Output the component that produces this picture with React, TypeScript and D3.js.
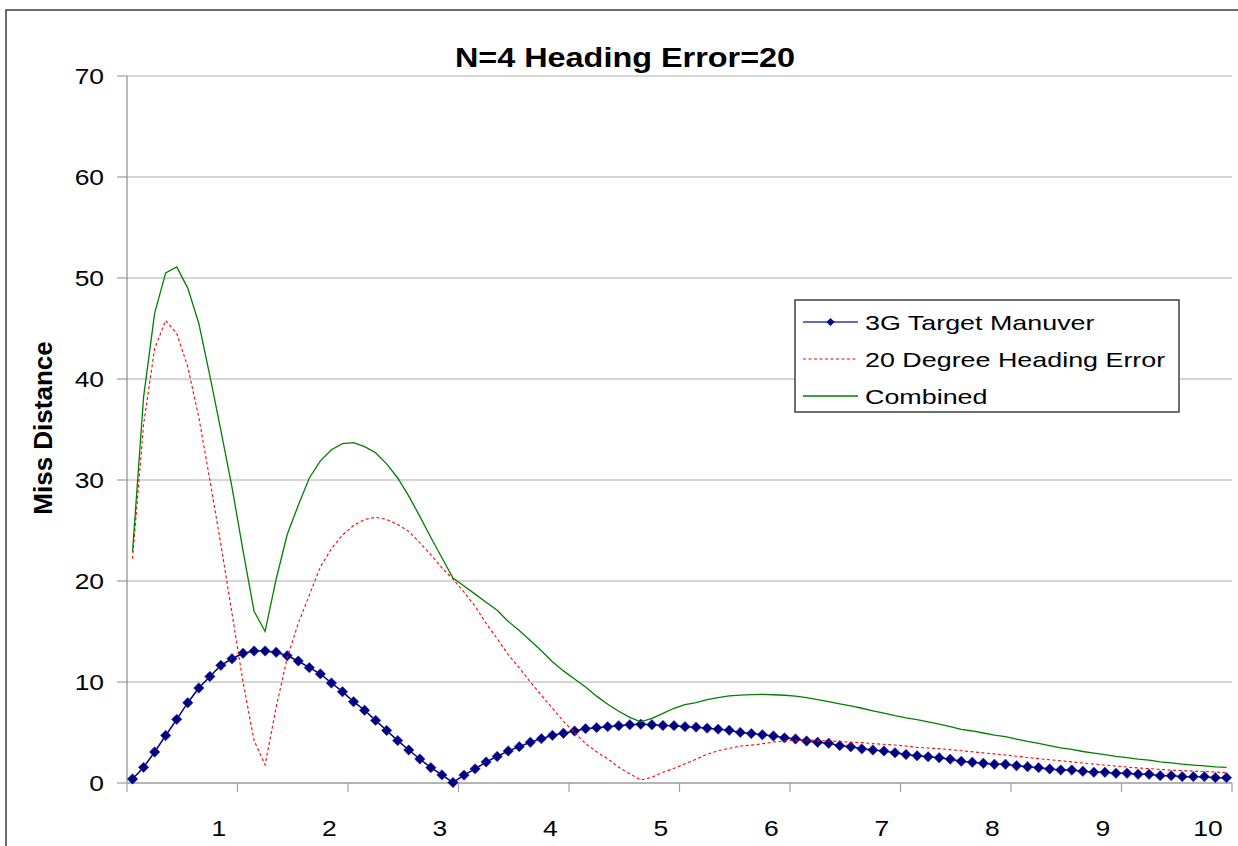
import React from 'react';
import * as d3 from 'd3';

const categories = [
  0.1, 0.2, 0.3, 0.4, 0.5, 0.6, 0.7, 0.8, 0.9, 1.0,
  1.1, 1.2, 1.3, 1.4, 1.5, 1.6, 1.7, 1.8, 1.9, 2.0,
  2.1, 2.2, 2.3, 2.4, 2.5, 2.6, 2.7, 2.8, 2.9, 3.0,
  3.1, 3.2, 3.3, 3.4, 3.5, 3.6, 3.7, 3.8, 3.9, 4.0,
  4.1, 4.2, 4.3, 4.4, 4.5, 4.6, 4.7, 4.8, 4.9, 5.0,
  5.1, 5.2, 5.3, 5.4, 5.5, 5.6, 5.7, 5.8, 5.9, 6.0,
  6.1, 6.2, 6.3, 6.4, 6.5, 6.6, 6.7, 6.8, 6.9, 7.0,
  7.1, 7.2, 7.3, 7.4, 7.5, 7.6, 7.7, 7.8, 7.9, 8.0,
  8.1, 8.2, 8.3, 8.4, 8.5, 8.6, 8.7, 8.8, 8.9, 9.0,
  9.1, 9.2, 9.3, 9.4, 9.5, 9.6, 9.7, 9.8, 9.9, 10.0,
];

const maneuver = [
  0.4, 1.55, 3.07, 4.7, 6.3, 7.95, 9.4, 10.55, 11.65, 12.3,
  12.84, 13.07, 13.07, 12.94, 12.6, 12.08, 11.42, 10.8, 9.9, 9.04,
  8.05, 7.2, 6.2, 5.2, 4.2, 3.27, 2.38, 1.52, 0.8, 0.05,
  0.78, 1.4, 2.08, 2.63, 3.17, 3.6, 4.03, 4.39, 4.72, 4.92,
  5.15, 5.38, 5.48, 5.58, 5.67, 5.77, 5.82, 5.77, 5.7, 5.68,
  5.58, 5.53, 5.43, 5.33, 5.22, 5.01, 4.89, 4.78, 4.66, 4.47,
  4.36, 4.16, 4.03, 3.93, 3.7, 3.58, 3.38, 3.27, 3.17, 2.99,
  2.82, 2.7, 2.6, 2.5, 2.36, 2.15, 2.05, 1.95, 1.85, 1.85,
  1.71, 1.61, 1.52, 1.39, 1.29, 1.29, 1.16, 1.06, 1.06, 0.96,
  0.96, 0.86, 0.86, 0.73, 0.73, 0.63, 0.63, 0.63, 0.53, 0.53,
];

const heading = [
  22.2, 35.5, 43.0, 45.8, 44.5, 41.2, 36.2, 30.0, 23.6, 16.8,
  10.0, 4.2, 1.8, 7.5, 12.4, 15.8, 18.6, 21.4, 23.2, 24.55,
  25.5, 26.1, 26.3, 26.1, 25.6, 24.9, 23.8, 22.6, 21.3, 20.2,
  18.9, 17.5, 15.8, 14.3, 12.7, 11.4, 10.0, 8.7, 7.4, 6.1,
  5.0, 3.9, 3.1, 2.4, 1.55, 0.9, 0.3, 0.56, 1.06, 1.45,
  1.9, 2.35, 2.84, 3.2, 3.43, 3.66, 3.75, 3.88, 4.06, 4.16,
  4.22, 4.26, 4.22, 4.16, 4.13, 4.03, 4.0, 3.9, 3.83, 3.76,
  3.66, 3.53, 3.47, 3.4, 3.3, 3.2, 3.09, 2.98, 2.88, 2.77,
  2.65, 2.53, 2.41, 2.3, 2.2, 2.09, 1.98, 1.87, 1.78, 1.67,
  1.58, 1.49, 1.42, 1.34, 1.27, 1.22, 1.17, 1.13, 1.08, 1.04,
];

const combined = [
  22.9, 38.2, 46.5, 50.5, 51.1, 49.0, 45.5, 40.3, 34.9, 29.3,
  23.0, 17.0, 15.0, 20.2, 24.6, 27.5, 30.2, 31.9, 33.0, 33.6,
  33.7, 33.3, 32.7, 31.6, 30.2, 28.4, 26.4, 24.3, 22.3, 20.3,
  19.5, 18.7, 17.9, 17.1, 16.0, 15.1, 14.1, 13.1, 12.0, 11.1,
  10.3, 9.5, 8.6, 7.8, 7.1, 6.5, 6.05, 6.4, 6.9, 7.4,
  7.75, 7.95, 8.25, 8.46, 8.62, 8.71, 8.75, 8.78, 8.74, 8.69,
  8.6, 8.45, 8.26, 8.05, 7.83, 7.63, 7.4, 7.15, 6.92, 6.67,
  6.45, 6.27, 6.06, 5.83, 5.58, 5.3, 5.15, 4.95, 4.75, 4.6,
  4.35, 4.12, 3.92, 3.7, 3.48, 3.33, 3.12, 2.95, 2.8, 2.63,
  2.52, 2.37, 2.27, 2.1, 2.0, 1.86, 1.77, 1.7, 1.6, 1.55,
];

const yTicks = [0, 10, 20, 30, 40, 50, 60, 70];
const xTickLabels = [1, 2, 3, 4, 5, 6, 7, 8, 9, 10];
const xBoundaries = [0.05, 1.05, 2.05, 3.05, 4.05, 5.05, 6.05, 7.05, 8.05, 9.05, 10.05];
const chartTitle = 'N=4 Heading Error=20';
const yAxisTitle = 'Miss Distance';
const seriesNames = ['3G Target Manuver', '20 Degree Heading Error', 'Combined'];

const FONT = '"Liberation Sans", Arial, sans-serif';
const NAVY = '#000080';
const RED = '#ff0000';
const GREEN = '#008000';

function diamond(cx: number, cy: number, r: number) {
  return `M${cx},${cy - r}L${cx + r},${cy}L${cx},${cy + r}L${cx - r},${cy}Z`;
}

export default function App() {
  const W = 1238;
  const H = 846;
  const left = 127;
  const right = 1232;
  const top = 76;
  const bottom = 783;

  const x = d3.scaleLinear().domain([0.05, 10.05]).range([left, right]);
  const y = d3.scaleLinear().domain([0, 70]).range([bottom, top]);

  const mkLine = (vals: number[]) =>
    d3
      .line<number>()
      .x((_, i) => x(categories[i]))
      .y((d) => y(d))(vals) || '';

  const legendX = 795;
  const legendY = 300;
  const legendW = 384;
  const legendH = 112;
  const rowY = [322, 359, 396];

  return (
    <svg
      width={W}
      height={H}
      style={{ position: 'absolute', left: 0, top: 0, background: '#fff' }}
      fontFamily={FONT}
    >
      <rect x={0} y={0} width={W} height={H} fill="#fff" />
      {/* chart border */}
      <rect x={6} y={10} width={W + 40} height={H + 40} fill="none" stroke="#3a3a3a" strokeWidth={1.5} />

      {/* gridlines */}
      {yTicks.map((t) =>
        t === 0 ? null : (
          <line key={'g' + t} x1={left} x2={right} y1={y(t)} y2={y(t)} stroke="#d6d6d6" strokeWidth={2} />
        )
      )}
      {/* y axis */}
      <line x1={left} x2={left} y1={top} y2={bottom} stroke="#8c8c8c" strokeWidth={1.2} />
      {yTicks.map((t) => (
        <line key={'yt' + t} x1={left - 10} x2={left} y1={y(t)} y2={y(t)} stroke="#9a9a9a" strokeWidth={1.2} />
      ))}
      {yTicks.map((t) => (
        <text
          key={'yl' + t}
          transform={`translate(104,${y(t) + 8}) scale(1.2,1)`}
          textAnchor="end"
          fontSize={22}
          fill="#000"
        >
          {t}
        </text>
      ))}
      {/* x axis */}
      <line x1={left} x2={right} y1={bottom} y2={bottom} stroke="#b4b4b4" strokeWidth={2} />
      {xBoundaries.map((b) => (
        <line key={'xt' + b} x1={x(b)} x2={x(b)} y1={bottom} y2={bottom + 9} stroke="#a0a0a0" strokeWidth={1.2} />
      ))}
      {xTickLabels.map((n) => (
        <text
          key={'xl' + n}
          transform={`translate(${Math.min(x(n - 0.12), 1208)},836) scale(1.2,1)`}
          textAnchor="middle"
          fontSize={22}
          fill="#000"
        >
          {n}
        </text>
      ))}

      {/* title */}
      <text
        transform={`translate(625,67) scale(1.2,1)`}
        textAnchor="middle"
        fontSize={27}
        fontWeight="bold"
        fill="#000"
      >
        {chartTitle}
      </text>
      {/* y axis title */}
      <text
        transform={`translate(52,428) rotate(-90)`}
        textAnchor="middle"
        fontSize={26}
        fontWeight="bold"
        fill="#000"
      >
        {yAxisTitle}
      </text>

      {/* series */}
      <path d={mkLine(maneuver)} fill="none" stroke={NAVY} strokeWidth={1.5} />
      {maneuver.map((v, i) => (
        <path key={'m' + i} d={diamond(x(categories[i]), y(v), 5.2)} fill={NAVY} stroke="#3030a0" strokeWidth={0.6} />
      ))}
      <path d={mkLine(heading)} fill="none" stroke={RED} strokeWidth={1.1} strokeDasharray="3,2.5" />
      <path d={mkLine(combined)} fill="none" stroke={GREEN} strokeWidth={1.3} />

      {/* legend */}
      <rect x={legendX} y={legendY} width={legendW} height={legendH} fill="#fff" stroke="#404040" strokeWidth={1.5} />
      <line x1={803} x2={858} y1={rowY[0]} y2={rowY[0]} stroke="#3838a8" strokeWidth={1.3} />
      <path d={diamond(830.5, rowY[0], 4)} fill={NAVY} />
      <line x1={803} x2={858} y1={rowY[1]} y2={rowY[1]} stroke={RED} strokeWidth={1.1} strokeDasharray="3,2.5" />
      <line x1={803} x2={858} y1={rowY[2]} y2={rowY[2]} stroke={GREEN} strokeWidth={1.3} />
      {seriesNames.map((s, i) => (
        <text
          key={s}
          transform={`translate(865,${rowY[i] + 8}) scale(1.28,1)`}
          fontSize={21}
          fill="#000"
        >
          {s}
        </text>
      ))}
    </svg>
  );
}
